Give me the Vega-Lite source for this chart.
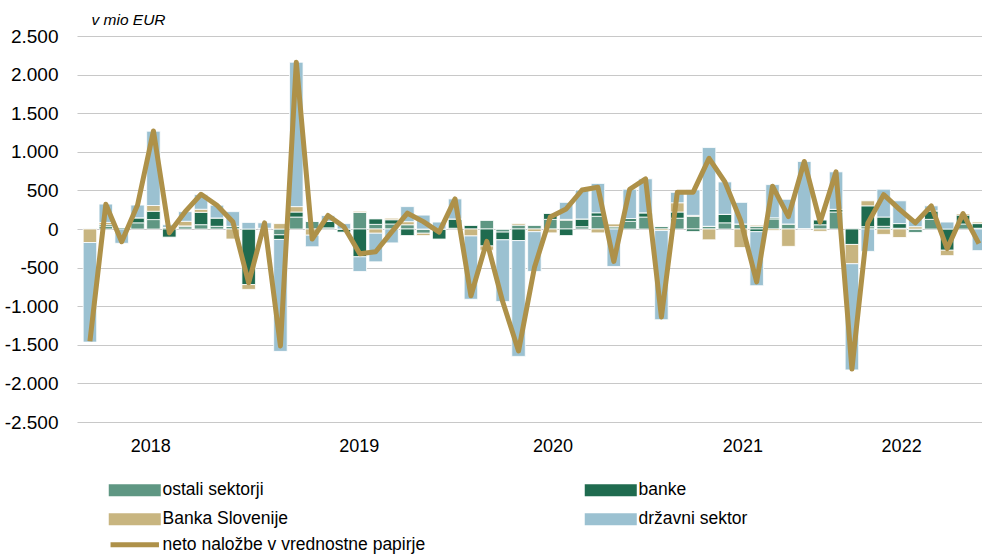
{
  "$schema": "https://vega.github.io/schema/vega-lite/v6.json",
  "autosize": "none",
  "width": 905,
  "height": 386,
  "padding": {"left": 77, "top": 36, "right": 0, "bottom": 133},
  "background": "white",
  "config": {
    "view": {"stroke": null},
    "font": "Liberation Sans, Arial, sans-serif",
    "axis": {"labelOverlap": false},
    "locale": {"number": {"decimal": ",", "thousands": ".", "grouping": [3], "currency": ["", " €"], "minus": "-"}}
  },
  "data": {"values": [
    {"mesec": "2018-01", "i": 0, "ostali sektorji": 5, "banke": 5, "Banka Slovenije": -175, "državni sektor": -1290, "neto": -1455},
    {"mesec": "2018-02", "i": 1, "ostali sektorji": 35, "banke": 20, "Banka Slovenije": 30, "državni sektor": 238, "neto": 320},
    {"mesec": "2018-03", "i": 2, "ostali sektorji": 0, "banke": 20, "Banka Slovenije": 0, "državni sektor": -185, "neto": -165},
    {"mesec": "2018-04", "i": 3, "ostali sektorji": 80, "banke": 65, "Banka Slovenije": 0, "državni sektor": 165, "neto": 310},
    {"mesec": "2018-05", "i": 4, "ostali sektorji": 122, "banke": 108, "Banka Slovenije": 74, "državni sektor": 963, "neto": 1270},
    {"mesec": "2018-06", "i": 5, "ostali sektorji": 20, "banke": -105, "Banka Slovenije": 0, "državni sektor": 35, "neto": -50},
    {"mesec": "2018-07", "i": 6, "ostali sektorji": 30, "banke": 10, "Banka Slovenije": 60, "državni sektor": 125, "neto": 225},
    {"mesec": "2018-08", "i": 7, "ostali sektorji": 56, "banke": 160, "Banka Slovenije": 40, "državni sektor": 190, "neto": 450},
    {"mesec": "2018-09", "i": 8, "ostali sektorji": 35, "banke": 108, "Banka Slovenije": 0, "državni sektor": 165, "neto": 308},
    {"mesec": "2018-10", "i": 9, "ostali sektorji": 35, "banke": 0, "Banka Slovenije": -130, "državni sektor": 190, "neto": 95},
    {"mesec": "2018-11", "i": 10, "ostali sektorji": 0, "banke": -720, "Banka Slovenije": -62, "državni sektor": 85, "neto": -697},
    {"mesec": "2018-12", "i": 11, "ostali sektorji": 10, "banke": 0, "Banka Slovenije": 0, "državni sektor": 70, "neto": 80},
    {"mesec": "2019-01", "i": 12, "ostali sektorji": -75, "banke": -60, "Banka Slovenije": 70, "državni sektor": -1450, "neto": -1515},
    {"mesec": "2019-02", "i": 13, "ostali sektorji": 155, "banke": 65, "Banka Slovenije": 70, "državni sektor": 1870, "neto": 2160},
    {"mesec": "2019-03", "i": 14, "ostali sektorji": 100, "banke": 0, "Banka Slovenije": -80, "državni sektor": -150, "neto": -130},
    {"mesec": "2019-04", "i": 15, "ostali sektorji": 15, "banke": 85, "Banka Slovenije": 0, "državni sektor": 75, "neto": 175},
    {"mesec": "2019-05", "i": 16, "ostali sektorji": 0, "banke": -40, "Banka Slovenije": 0, "državni sektor": 70, "neto": 30},
    {"mesec": "2019-06", "i": 17, "ostali sektorji": 215, "banke": -360, "Banka Slovenije": 15, "državni sektor": -190, "neto": -320},
    {"mesec": "2019-07", "i": 18, "ostali sektorji": 60, "banke": 70, "Banka Slovenije": -55, "državni sektor": -370, "neto": -295},
    {"mesec": "2019-08", "i": 19, "ostali sektorji": 65, "banke": 55, "Banka Slovenije": 20, "državni sektor": -180, "neto": -40},
    {"mesec": "2019-09", "i": 20, "ostali sektorji": 55, "banke": -85, "Banka Slovenije": 40, "državni sektor": 195, "neto": 205},
    {"mesec": "2019-10", "i": 21, "ostali sektorji": -55, "banke": 0, "Banka Slovenije": -30, "državni sektor": 180, "neto": 95},
    {"mesec": "2019-11", "i": 22, "ostali sektorji": 0, "banke": -130, "Banka Slovenije": 0, "državni sektor": 90, "neto": -40},
    {"mesec": "2019-12", "i": 23, "ostali sektorji": 10, "banke": 120, "Banka Slovenije": 0, "državni sektor": 260, "neto": 390},
    {"mesec": "2020-01", "i": 24, "ostali sektorji": 0, "banke": 45, "Banka Slovenije": -90, "državni sektor": -820, "neto": -865},
    {"mesec": "2020-02", "i": 25, "ostali sektorji": 115, "banke": -220, "Banka Slovenije": -55, "državni sektor": 0, "neto": -160},
    {"mesec": "2020-03", "i": 26, "ostali sektorji": -40, "banke": -100, "Banka Slovenije": 0, "državni sektor": -800, "neto": -940},
    {"mesec": "2020-04", "i": 27, "ostali sektorji": 50, "banke": -150, "Banka Slovenije": 20, "državni sektor": -1500, "neto": -1580},
    {"mesec": "2020-05", "i": 28, "ostali sektorji": 50, "banke": 0, "Banka Slovenije": -35, "državni sektor": -515, "neto": -500},
    {"mesec": "2020-06", "i": 29, "ostali sektorji": 125, "banke": 80, "Banka Slovenije": -50, "državni sektor": 0, "neto": 155},
    {"mesec": "2020-07", "i": 30, "ostali sektorji": 115, "banke": -85, "Banka Slovenije": 10, "državni sektor": 220, "neto": 260},
    {"mesec": "2020-08", "i": 31, "ostali sektorji": 30, "banke": 100, "Banka Slovenije": 0, "državni sektor": 375, "neto": 505},
    {"mesec": "2020-09", "i": 32, "ostali sektorji": 165, "banke": 45, "Banka Slovenije": -50, "državni sektor": 380, "neto": 540},
    {"mesec": "2020-10", "i": 33, "ostali sektorji": 30, "banke": 0, "Banka Slovenije": 35, "državni sektor": -485, "neto": -420},
    {"mesec": "2020-11", "i": 34, "ostali sektorji": 100, "banke": 35, "Banka Slovenije": 0, "državni sektor": 380, "neto": 515},
    {"mesec": "2020-12", "i": 35, "ostali sektorji": 155, "banke": 55, "Banka Slovenije": 0, "državni sektor": 440, "neto": 650},
    {"mesec": "2021-01", "i": 36, "ostali sektorji": 35, "banke": 0, "Banka Slovenije": -20, "državni sektor": -1155, "neto": -1140},
    {"mesec": "2021-02", "i": 37, "ostali sektorji": 140, "banke": 80, "Banka Slovenije": 120, "državni sektor": 135, "neto": 475},
    {"mesec": "2021-03", "i": 38, "ostali sektorji": 165, "banke": -30, "Banka Slovenije": 12, "državni sektor": 330, "neto": 477},
    {"mesec": "2021-04", "i": 39, "ostali sektorji": 35, "banke": 0, "Banka Slovenije": -140, "državni sektor": 1020, "neto": 915},
    {"mesec": "2021-05", "i": 40, "ostali sektorji": 80, "banke": 110, "Banka Slovenije": 0, "državni sektor": 420, "neto": 610},
    {"mesec": "2021-06", "i": 41, "ostali sektorji": 65, "banke": 0, "Banka Slovenije": -240, "državni sektor": 280, "neto": 105},
    {"mesec": "2021-07", "i": 42, "ostali sektorji": 35, "banke": -35, "Banka Slovenije": 15, "državni sektor": -700, "neto": -685},
    {"mesec": "2021-08", "i": 43, "ostali sektorji": 130, "banke": 15, "Banka Slovenije": -20, "državni sektor": 430, "neto": 555},
    {"mesec": "2021-09", "i": 44, "ostali sektorji": 65, "banke": 0, "Banka Slovenije": -225, "državni sektor": 320, "neto": 160},
    {"mesec": "2021-10", "i": 45, "ostali sektorji": 5, "banke": 0, "Banka Slovenije": 0, "državni sektor": 870, "neto": 875},
    {"mesec": "2021-11", "i": 46, "ostali sektorji": 55, "banke": 65, "Banka Slovenije": -30, "državni sektor": 0, "neto": 90},
    {"mesec": "2021-12", "i": 47, "ostali sektorji": 220, "banke": 35, "Banka Slovenije": 0, "državni sektor": 485, "neto": 740},
    {"mesec": "2022-01", "i": 48, "ostali sektorji": 10, "banke": -200, "Banka Slovenije": -250, "državni sektor": -1375, "neto": -1815},
    {"mesec": "2022-02", "i": 49, "ostali sektorji": 30, "banke": 270, "Banka Slovenije": 65, "državni sektor": -290, "neto": 75},
    {"mesec": "2022-03", "i": 50, "ostali sektorji": 35, "banke": 120, "Banka Slovenije": -70, "državni sektor": 360, "neto": 445},
    {"mesec": "2022-04", "i": 51, "ostali sektorji": 10, "banke": 60, "Banka Slovenije": -110, "državni sektor": 295, "neto": 255},
    {"mesec": "2022-05", "i": 52, "ostali sektorji": -45, "banke": 0, "Banka Slovenije": 30, "državni sektor": 95, "neto": 80},
    {"mesec": "2022-06", "i": 53, "ostali sektorji": 125, "banke": 110, "Banka Slovenije": 0, "državni sektor": 65, "neto": 300},
    {"mesec": "2022-07", "i": 54, "ostali sektorji": 0, "banke": -275, "Banka Slovenije": -70, "državni sektor": 90, "neto": -255},
    {"mesec": "2022-08", "i": 55, "ostali sektorji": 65, "banke": 115, "Banka Slovenije": 20, "državni sektor": 0, "neto": 200},
    {"mesec": "2022-09", "i": 56, "ostali sektorji": 10, "banke": 60, "Banka Slovenije": 20, "državni sektor": -280, "neto": -190}
  ]},
  "layer": [
    {
      "transform": [
        {"fold": ["ostali sektorji", "banke", "Banka Slovenije", "državni sektor"], "as": ["sektor", "v"]},
        {"lookup": "sektor", "from": {"data": {"values": [
          {"sektor": "ostali sektorji", "red": 1},
          {"sektor": "banke", "red": 2},
          {"sektor": "Banka Slovenije", "red": 3},
          {"sektor": "državni sektor", "red": 4}
        ]}, "key": "sektor", "fields": ["red"]}}
      ],
      "mark": {"type": "bar", "width": 13.5, "clip": true, "stroke": "white", "strokeWidth": 0.8},
      "encoding": {
        "x": {"field": "i", "type": "quantitative",
          "scale": {"domain": [-0.5, 55.88], "nice": false, "zero": false},
          "axis": {
            "values": [3.8, 16.93, 29.14, 41.1, 51.1],
            "labelExpr": "datum.value < 10 ? '2018' : datum.value < 23 ? '2019' : datum.value < 35 ? '2020' : datum.value < 46 ? '2021' : '2022'",
            "title": null, "domain": false, "ticks": false, "grid": false,
            "labelFontSize": 18, "labelColor": "#000000", "labelPadding": 15,
            "labelFlush": false, "labelOverlap": false
          }
        },
        "y": {"field": "v", "type": "quantitative", "stack": "zero",
          "scale": {"domain": [-2500, 2500], "nice": false},
          "axis": {
            "values": [-2500, -2000, -1500, -1000, -500, 0, 500, 1000, 1500, 2000, 2500],
            "format": ",d",
            "title": "v mio EUR", "titleAngle": 0, "titleAlign": "left", "titleBaseline": "alphabetic",
            "titleX": 14, "titleY": -12, "titleFontStyle": "italic", "titleFontWeight": "normal",
            "titleFontSize": 15.5, "titleColor": "#000000",
            "domain": false, "ticks": false,
            "grid": true, "gridColor": "#c8c8c8", "gridWidth": 1.2,
            "labelFontSize": 19, "labelColor": "#000000", "labelPadding": 19,
            "labelOverlap": false, "labelFlush": false
          }
        },
        "color": {"field": "sektor", "type": "nominal",
          "scale": {
            "domain": ["ostali sektorji", "banke", "Banka Slovenije", "državni sektor"],
            "range": ["#5f9783", "#1f6b4f", "#c8b580", "#9bc1d1"]
          },
          "legend": {
            "orient": "none", "legendX": 29, "legendY": 445, "direction": "horizontal",
            "columns": 2, "columnPadding": 294, "rowPadding": 10.5,
            "title": null, "labelFontSize": 17.5, "labelColor": "#000000", "labelOffset": 39, "labelLimit": 0,
            "symbolSize": 144, "symbolType": "M-1,-1H7.67V1H-1Z", "symbolStrokeWidth": 0
          }
        },
        "order": {"field": "red", "type": "quantitative", "sort": "ascending"}
      }
    },
    {
      "mark": {"type": "line", "clip": true, "strokeWidth": 5, "strokeJoin": "round", "strokeCap": "butt"},
      "encoding": {
        "x": {"field": "i", "type": "quantitative",
          "scale": {"domain": [-0.5, 55.88], "nice": false, "zero": false},
          "axis": {
            "values": [3.8, 16.93, 29.14, 41.1, 51.1],
            "labelExpr": "datum.value < 10 ? '2018' : datum.value < 23 ? '2019' : datum.value < 35 ? '2020' : datum.value < 46 ? '2021' : '2022'",
            "title": null, "domain": false, "ticks": false, "grid": false,
            "labelFontSize": 18, "labelColor": "#000000", "labelPadding": 15,
            "labelFlush": false, "labelOverlap": false
          }
        },
        "y": {"field": "neto", "type": "quantitative",
          "scale": {"domain": [-2500, 2500], "nice": false},
          "axis": {
            "values": [-2500, -2000, -1500, -1000, -500, 0, 500, 1000, 1500, 2000, 2500],
            "format": ",d",
            "title": "v mio EUR", "titleAngle": 0, "titleAlign": "left", "titleBaseline": "alphabetic",
            "titleX": 14, "titleY": -12, "titleFontStyle": "italic", "titleFontWeight": "normal",
            "titleFontSize": 15.5, "titleColor": "#000000",
            "domain": false, "ticks": false,
            "grid": true, "gridColor": "#c8c8c8", "gridWidth": 1.2,
            "labelFontSize": 19, "labelColor": "#000000", "labelPadding": 19,
            "labelOverlap": false, "labelFlush": false
          }
        },
        "stroke": {"datum": "neto naložbe v vrednostne papirje",
          "scale": {"range": ["#ae9149"]},
          "legend": {
            "orient": "none", "legendX": 29, "legendY": 500,
            "title": null, "labelFontSize": 17.5, "labelColor": "#000000", "labelOffset": 39, "labelLimit": 0,
            "symbolSize": 144, "symbolType": "M-0.7,0H7.37", "symbolStrokeWidth": 5
          }
        }
      }
    }
  ]
}
